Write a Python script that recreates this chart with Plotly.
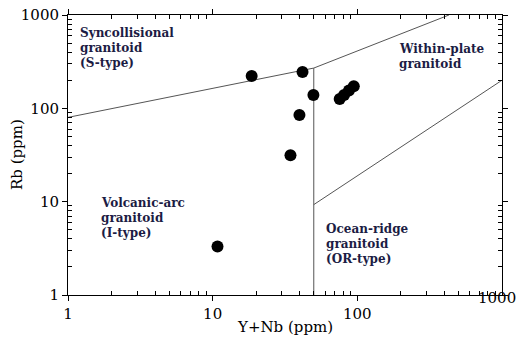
import math
import plotly.graph_objects as go

# Sample data (Y+Nb vs Rb, ppm)
sample_ynb = [18.6, 41.8, 49.7, 39.8, 34.5, 10.8, 75.5, 81.0, 87.5, 94.5]
sample_rb = [222, 245, 139, 85, 31.5, 3.3, 126, 139, 155, 172]

# Discrimination boundaries (Pearce et al.)
b1_x = [1, 50]; b1_y = [80, 270]          # syn-COLG / VAG
b2_x = [50, 430]; b2_y = [270, 1000]      # syn-COLG / WPG
b3_x = [50, 50]; b3_y = [1, 270]          # VAG / ORG-WPG
b4_x = [50, 1000]; b4_y = [9.3, 200]      # WPG / ORG

xticks = [1, 10, 100]
yticks = [1, 10, 100, 1000]
minor_vals = [m * 10 ** d for d in range(3) for m in range(2, 10)]

# field label lines and anchor (first line) positions in data units
field_labels = [
    (["Syncollisional", "granitoid", "(S-type)"], 1.17, 641),
    (["Within-plate", "granitoid"], 189, 433),
    (["Volcanic-arc", "granitoid", "(I-type)"], 1.64, 9.7),
    (["Ocean-ridge", "granitoid", "(OR-type)"], 59.2, 5.1),
]

SERIF = "DejaVu Serif"

fig = go.Figure()
line_style = dict(color="#555555", width=1)
for bx, by in [(b1_x, b1_y), (b2_x, b2_y), (b3_x, b3_y), (b4_x, b4_y)]:
    fig.add_trace(go.Scatter(x=bx, y=by, mode="lines", line=line_style,
                             hoverinfo="skip", showlegend=False))

fig.add_trace(go.Scatter(x=sample_ynb, y=sample_rb, mode="markers",
                         marker=dict(color="black", size=12, line=dict(width=0)),
                         showlegend=False))

for lines, x, y in field_labels:
    for i, txt in enumerate(lines):
        fig.add_annotation(x=math.log10(x), y=math.log10(y), yshift=-15 * i,
                           text="<b>" + txt + "</b>", showarrow=False,
                           xanchor="left", yanchor="middle", align="left",
                           font=dict(family=SERIF, size=12, color="#1c1c44"))

fig.add_annotation(x=3, y=0, text="1000", showarrow=False, xanchor="center",
                   yanchor="middle", yshift=-3, xshift=-5,
                   font=dict(family=SERIF, size=15, color="black"))

# axis titles
fig.add_annotation(xref="paper", yref="paper", x=0.5, y=0, yshift=-32,
                   text="Y+Nb (ppm)", showarrow=False, xanchor="center", yanchor="middle",
                   font=dict(family=SERIF, size=15, color="black"))
fig.add_annotation(xref="paper", yref="paper", x=0, y=0.5, xshift=-51, textangle=-90,
                   text="Rb (ppm)", showarrow=False, xanchor="center", yanchor="middle",
                   font=dict(family=SERIF, size=15, color="black"))

axis_common = dict(type="log", showgrid=False, zeroline=False, showline=True,
                   linecolor="black", linewidth=1, mirror="allticks",
                   ticks="outside", ticklen=5, tickcolor="black", automargin=False,
                   tickfont=dict(family=SERIF, size=15, color="black"),
                   minor=dict(ticks="inside", ticklen=4, tickcolor="black",
                              tickvals=minor_vals, showgrid=False))

fig.update_xaxes(range=[0, 3], tickvals=xticks, ticktext=[str(v) for v in xticks],
                 **axis_common)
fig.update_yaxes(range=[0, 3], tickvals=yticks, ticktext=[str(v) for v in yticks],
                 **axis_common)

fig.update_layout(width=516, height=341, margin=dict(l=68, r=14, t=15, b=46),
                  font=dict(family=SERIF),
                  paper_bgcolor="white", plot_bgcolor="white")

fig.write_html("out.html")
